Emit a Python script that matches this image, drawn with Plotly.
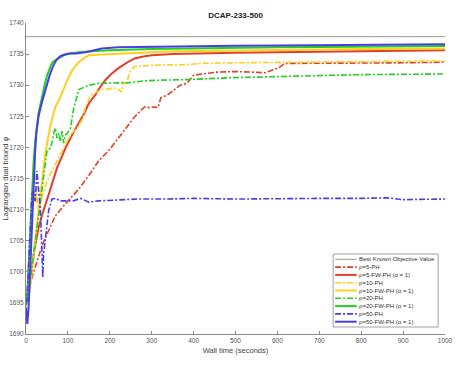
import plotly.graph_objects as go

# ---- data ----
best_known = 1737.8

t_5ph = [13, 20, 25, 35, 45, 56, 70, 95, 115, 126, 150, 173, 200, 220, 250, 259, 275, 283, 295, 306,
         315, 322, 337, 353, 368, 384, 392, 400, 454, 500, 540, 571, 587, 603, 618, 700, 800, 900, 1000]
y_5ph = [1698.8, 1700.3, 1701.5, 1703.5, 1705.3, 1707.0, 1709.0, 1711.0, 1712.6, 1713.3, 1715.5, 1717.8,
         1719.7, 1721.5, 1724.0, 1724.9, 1726.0, 1726.5, 1726.4, 1726.5, 1726.4, 1728.0, 1728.4, 1729.2,
         1730.0, 1730.3, 1731.0, 1731.6, 1732.1, 1732.2, 1732.1, 1732.0, 1732.4, 1732.8, 1733.5, 1733.5,
         1733.6, 1733.6, 1733.7]

t_5fw = [5, 10, 14, 20, 30, 40, 50, 56, 74, 95, 110, 126, 140, 150, 165, 175, 189, 205, 220, 240, 259,
         280, 300, 350, 400, 500, 600, 700, 800, 900, 1000]
y_5fw = [1695.0, 1698.5, 1700.7, 1703.5, 1707.1, 1709.5, 1711.4, 1712.8, 1716.7, 1720.0, 1722.0, 1723.8,
         1725.6, 1727.1, 1728.4, 1729.5, 1730.8, 1731.9, 1732.7, 1733.6, 1734.3, 1734.6, 1734.8, 1735.0,
         1735.1, 1735.2, 1735.3, 1735.4, 1735.45, 1735.5, 1735.6]

t_10ph = [3, 8, 12, 15, 18, 20, 23, 26, 28, 32, 40, 50, 58, 74, 98, 110, 122, 135, 142, 154, 181, 212,
          224, 228, 232, 240, 247, 259, 298, 384, 415, 500, 600, 700, 800, 900, 1000]
y_10ph = [1696.0, 1702.0, 1708.0, 1711.5, 1710.5, 1713.0, 1711.0, 1713.5, 1710.0, 1710.5, 1712.5, 1714.5,
          1715.7, 1717.8, 1721.0, 1722.3, 1723.1, 1724.6, 1726.5, 1728.4, 1729.3, 1729.5, 1729.2, 1728.9,
          1730.5, 1730.1, 1732.1, 1733.0, 1733.2, 1733.3, 1733.5, 1733.6, 1733.7, 1733.8, 1733.8, 1733.85,
          1733.9]

t_10fw = [3, 10, 22, 35, 46, 58, 70, 80, 90, 100, 110, 126, 142, 150, 170, 204, 250, 337, 400, 500, 600,
          700, 800, 900, 1000]
y_10fw = [1695.5, 1697.5, 1705.0, 1713.0, 1719.0, 1723.5, 1726.5, 1727.8, 1729.5, 1731.0, 1732.4, 1733.7,
          1734.5, 1734.8, 1734.9, 1735.0, 1735.2, 1735.4, 1735.5, 1735.6, 1735.7, 1735.75, 1735.8, 1735.85,
          1735.9]

t_20ph = [8, 13, 20, 26, 32, 38, 44, 50, 58, 63, 66, 70, 74, 78, 82, 86, 90, 94, 98, 106, 114, 118, 126,
          150, 173, 244, 283, 314, 384, 485, 600, 681, 800, 900, 1000]
y_20ph = [1697.5, 1700.2, 1703.8, 1707.1, 1710.5, 1713.5, 1716.5, 1719.4, 1719.9, 1721.0, 1722.3, 1723.1,
          1721.5, 1722.3, 1721.0, 1722.6, 1720.7, 1722.0, 1722.2, 1723.1, 1726.3, 1727.4, 1729.3, 1730.0,
          1730.3, 1730.4, 1730.7, 1730.8, 1730.9, 1731.2, 1731.4, 1731.6, 1731.7, 1731.75, 1731.8]

t_20fw = [0, 3, 6, 9, 12, 15, 18, 22, 26, 30, 34, 40, 45, 50, 55, 60, 65, 72, 80, 90, 100, 126, 150, 200,
          300, 384, 500, 600, 700, 800, 900, 1000]
y_20fw = [1694.5, 1696.5, 1700.5, 1705.5, 1710.0, 1714.0, 1717.5, 1721.0, 1723.8, 1725.6, 1726.8, 1728.8,
          1730.2, 1731.5, 1732.6, 1733.3, 1733.8, 1734.1, 1734.5, 1734.8, 1735.0, 1735.3, 1735.4, 1735.6,
          1735.8, 1735.9, 1736.0, 1736.1, 1736.15, 1736.2, 1736.25, 1736.3]

t_50ph = [2, 6, 10, 14, 18, 22, 26, 30, 34, 38, 40, 42, 46, 54, 62, 70, 82, 98, 112, 130, 150, 173, 204,
          267, 337, 400, 500, 600, 700, 800, 860, 900, 950, 1000]
y_50ph = [1694.9, 1700.0, 1706.1, 1712.5, 1713.0, 1711.4, 1716.2, 1712.5, 1710.3, 1703.4, 1699.1, 1702.8,
          1705.0, 1709.8, 1711.7, 1711.8, 1711.4, 1711.4, 1711.4, 1711.8, 1711.2, 1711.4, 1711.5, 1711.7,
          1711.7, 1711.8, 1711.7, 1711.8, 1711.8, 1711.8, 1711.9, 1711.6, 1711.7, 1711.7]

t_50fw = [0, 3, 6, 10, 15, 18, 22, 25, 30, 37, 48, 56, 64, 72, 80, 90, 103, 120, 142, 181, 220, 300, 400,
          500, 600, 700, 800, 900, 1000]
y_50fw = [1694.3, 1691.6, 1694.0, 1700.7, 1709.8, 1714.5, 1719.5, 1722.5, 1725.0, 1727.0, 1729.7, 1731.5,
          1733.0, 1734.0, 1734.6, 1734.9, 1735.1, 1735.1, 1735.3, 1735.9, 1736.1, 1736.2, 1736.3, 1736.35,
          1736.4, 1736.45, 1736.5, 1736.55, 1736.6]

names = ['Best Known Objective Value',
         'ρ=5-PH', 'ρ=5-FW-PH (α = 1)',
         'ρ=10-PH', 'ρ=10-FW-PH (α = 1)',
         'ρ=20-PH', 'ρ=20-FW-PH (α = 1)',
         'ρ=50-PH', 'ρ=50-FW-PH (α = 1)']

# ---- styles ----
GREY = '#9a9a9a'; RED = '#e0402a'; YEL = '#ffcf1a'; GRN = '#22cf22'; BLU = '#4b3de6'
DASHDOT = '6px,2px,2px,2px'
FONT = 'Liberation Sans, Arial, Helvetica, sans-serif'

series = [
    ([0, 1000], [best_known, best_known], GREY, 'solid', 1.0),
    (t_5ph, y_5ph, RED, DASHDOT, 1.6),
    (t_5fw, y_5fw, RED, 'solid', 2.0),
    (t_10ph, y_10ph, YEL, DASHDOT, 1.6),
    (t_10fw, y_10fw, YEL, 'solid', 2.0),
    (t_20ph, y_20ph, GRN, DASHDOT, 1.6),
    (t_20fw, y_20fw, GRN, 'solid', 2.0),
    (t_50ph, y_50ph, BLU, DASHDOT, 1.6),
    (t_50fw, y_50fw, BLU, 'solid', 2.0),
]

W, H = 461, 369
ML, MR, MT, MB = 26, 8, 23, 35
PW, PH = W - ML - MR, H - MT - MB

def px(x):  # pixel -> paper x
    return (x - ML) / PW

def py(y):  # pixel -> paper y
    return (H - MB - y) / PH

fig = go.Figure()
for (xs, ys, col, dash, lw), nm in zip(series, names):
    fig.add_trace(go.Scatter(x=xs, y=ys, mode='lines', name=nm, hoverinfo='skip',
                             line=dict(color=col, dash=dash, width=lw)))

# hand-drawn legend (plotly's legend rows can't be this tight)
shapes = [dict(type='rect', xref='paper', yref='paper',
               x0=px(339), x1=px(446), y0=py(327), y1=py(254),
               line=dict(color='#a0a0a0', width=1), fillcolor='white', layer='above')]
annots = []
for i, ((xs, ys, col, dash, lw), nm) in enumerate(zip(series, names)):
    yc = 259.3 + i * 7.8
    shapes.append(dict(type='line', xref='paper', yref='paper',
                       x0=px(341), x1=px(363), y0=py(yc), y1=py(yc),
                       line=dict(color=col, dash=dash, width=lw), layer='above'))
    annots.append(dict(xref='paper', yref='paper', x=px(364), y=py(yc),
                       text=nm, showarrow=False, xanchor='left', yanchor='middle',
                       font=dict(size=6, color='#333333', family=FONT), borderpad=0))

annots.append(dict(xref='paper', yref='paper', x=px(5), y=py(178),
                   text='Lagrangian dual bound φ', textangle=-90, showarrow=False,
                   xanchor='center', yanchor='middle',
                   font=dict(size=7.5, color='#444444', family=FONT)))

fig.update_layout(
    width=W, height=H, autosize=False,
    margin=dict(l=ML, r=MR, t=MT, b=MB),
    paper_bgcolor='white', plot_bgcolor='white',
    showlegend=False, hovermode=False,
    font=dict(family=FONT, color='#4d4d4d', size=6.5),
    title=dict(text='<b>DCAP-233-500</b>', x=px(239.5), xref='paper', xanchor='center',
               y=1 - 15 / H, yanchor='middle',
               font=dict(size=8, color='#222222', family=FONT)),
    shapes=shapes, annotations=annots,
)
fig.update_xaxes(range=[0, 1000], dtick=100, ticks='inside', ticklen=3, tickcolor='#888888',
                 showline=True, linecolor='#888888', linewidth=1, showgrid=False, zeroline=False,
                 title=dict(text='Wall time (seconds)', font=dict(size=7.5, color='#444444'), standoff=4),
                 tickfont=dict(size=6.5, color='#555555'))
fig.update_yaxes(range=[1690, 1740], dtick=5, ticks='inside', ticklen=3, tickcolor='#888888',
                 showline=True, linecolor='#888888', linewidth=1, showgrid=False, zeroline=False,
                 tickfont=dict(size=6.5, color='#555555'))

# the browser's default 8px body margin would shift the figure
fig.write_html('out.html',
               config={'displayModeBar': False, 'responsive': False},
               post_script="document.body.style.margin='0';document.body.style.overflow='hidden';")
